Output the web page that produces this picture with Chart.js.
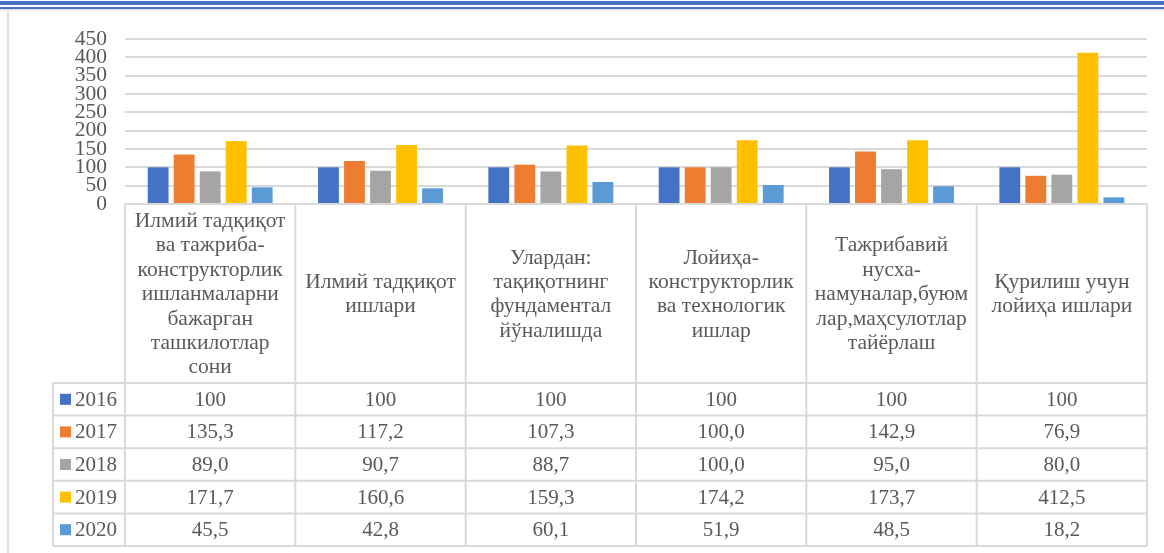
<!DOCTYPE html>
<html>
<head>
<meta charset="utf-8">
<script src="https://cdn.jsdelivr.net/npm/chart.js@4/dist/chart.umd.min.js"></script>
<style>
  html, body { margin: 0; padding: 0; background: #fff; }
  #wrap { position: relative; width: 1164px; height: 553px; }
</style>
</head>
<body>
<div id="wrap"><canvas id="chart" width="1164" height="553"></canvas></div>
<script>
const categories = [
  ["Илмий тадқиқот", "ва тажриба-", "конструкторлик", "ишланмаларни", "бажарган", "ташкилотлар", "сони"],
  ["Илмий тадқиқот", "ишлари"],
  ["Улардан:", "тақиқотнинг", "фундаментал", "йўналишда"],
  ["Лойиҳа-", "конструкторлик", "ва технологик", "ишлар"],
  ["Тажрибавий", "нусха-", "намуналар,буюм", "лар,маҳсулотлар", "тайёрлаш"],
  ["Қурилиш учун", "лойиҳа ишлари"]
];
const years = ["2016", "2017", "2018", "2019", "2020"];
const values2016 = [100, 100, 100, 100, 100, 100];
const values2017 = [135.3, 117.2, 107.3, 100.0, 142.9, 76.9];
const values2018 = [89.0, 90.7, 88.7, 100.0, 95.0, 80.0];
const values2019 = [171.7, 160.6, 159.3, 174.2, 173.7, 412.5];
const values2020 = [45.5, 42.8, 60.1, 51.9, 48.5, 18.2];
const yTicks = [0, 50, 100, 150, 200, 250, 300, 350, 400, 450];

const colors = ["#4472C4", "#ED7D31", "#A5A5A5", "#FFC000", "#5B9BD5"];
const decimals = [0, 1, 1, 1, 1];
const series = [values2016, values2017, values2018, values2019, values2020];

const textColor = "#595959";
const lineColor = "#d9d9d9";
const serif = "'Liberation Serif', 'Times New Roman', serif";

const fmt = (v, d) => v.toFixed(d).replace(".", ",");

// draws the page frame and the data table under the plot
const tablePlugin = {
  id: "dataTable",
  beforeDraw(chart) {
    const c = chart.ctx;
    c.save();
    c.fillStyle = "#4472C4";
    c.fillRect(0, 1, chart.width, 4);
    c.fillRect(0, 7, chart.width, 2);
    c.fillStyle = "#e2e2e2";
    c.fillRect(0, 9, chart.width, 1.5);
    c.fillRect(7, 10, 2, chart.height - 10);
    c.restore();
  },
  afterDraw(chart) {
    const c = chart.ctx;
    const x = chart.scales.x;
    const area = chart.chartArea;
    const colW = x.getPixelForValue(1) - x.getPixelForValue(0);
    const left = area.left;
    const right = area.right;
    const top = area.bottom;
    const headBottom = 383;
    const rowH = 32.6;
    const legLeft = 53;
    const bottom = headBottom + rowH * years.length;

    c.save();
    c.strokeStyle = lineColor;
    c.lineWidth = 2;
    c.beginPath();
    c.moveTo(left, top); c.lineTo(right, top);
    for (let i = 0; i <= categories.length; i++) {
      const bx = left + i * colW;
      c.moveTo(bx, top); c.lineTo(bx, bottom);
    }
    c.moveTo(legLeft, headBottom); c.lineTo(legLeft, bottom);
    for (let r = 0; r <= years.length; r++) {
      const ry = headBottom + r * rowH;
      c.moveTo(legLeft, ry); c.lineTo(right, ry);
    }
    c.stroke();

    c.fillStyle = textColor;
    c.textAlign = "center";
    c.textBaseline = "middle";
    c.font = "21.5px " + serif;
    const lh = 24.4;
    const midY = (top + headBottom) / 2;
    categories.forEach((lines, i) => {
      const cx = x.getPixelForValue(i);
      const y0 = midY - (lines.length - 1) * lh / 2;
      lines.forEach((t, j) => c.fillText(t, cx, y0 + j * lh + 1));
    });

    c.font = "21px " + serif;
    years.forEach((yr, r) => {
      const cy = headBottom + r * rowH + rowH / 2 + 1;
      c.fillStyle = colors[r];
      c.fillRect(60, cy - 6.5, 11, 11);
      c.fillStyle = textColor;
      c.textAlign = "left";
      c.fillText(yr, 75, cy);
      c.textAlign = "center";
      series[r].forEach((v, i) => {
        c.fillText(fmt(v, decimals[r]), x.getPixelForValue(i), cy);
      });
    });
    c.restore();
  }
};

const ctx = document.getElementById("chart").getContext("2d");
const chart = new Chart(ctx, {
  type: "bar",
  data: {
    labels: categories.map((l) => l.join(" ")),
    datasets: years.map((yr, i) => ({
      label: yr,
      data: series[i],
      backgroundColor: colors[i],
      borderWidth: 0,
      categoryPercentage: 0.764,
      barPercentage: 0.8
    }))
  },
  options: {
    responsive: false,
    animation: false,
    layout: {
      padding: { left: 0, top: 39, right: 17, bottom: 349 }
    },
    plugins: {
      legend: { display: false },
      tooltip: { enabled: false }
    },
    scales: {
      x: {
        display: false
      },
      y: {
        min: 0,
        max: 450,
        afterBuildTicks: (scale) => {
          scale.ticks = yTicks.map((v) => ({ value: v }));
        },
        afterFit: (scale) => {
          scale.width = 125;
        },
        ticks: {
          color: textColor,
          padding: 18,
          autoSkip: false,
          font: { family: serif, size: 21.5 }
        },
        grid: {
          color: lineColor,
          lineWidth: 2,
          drawTicks: false
        },
        border: { display: false }
      }
    }
  },
  plugins: [tablePlugin]
});
</script>
</body>
</html>
